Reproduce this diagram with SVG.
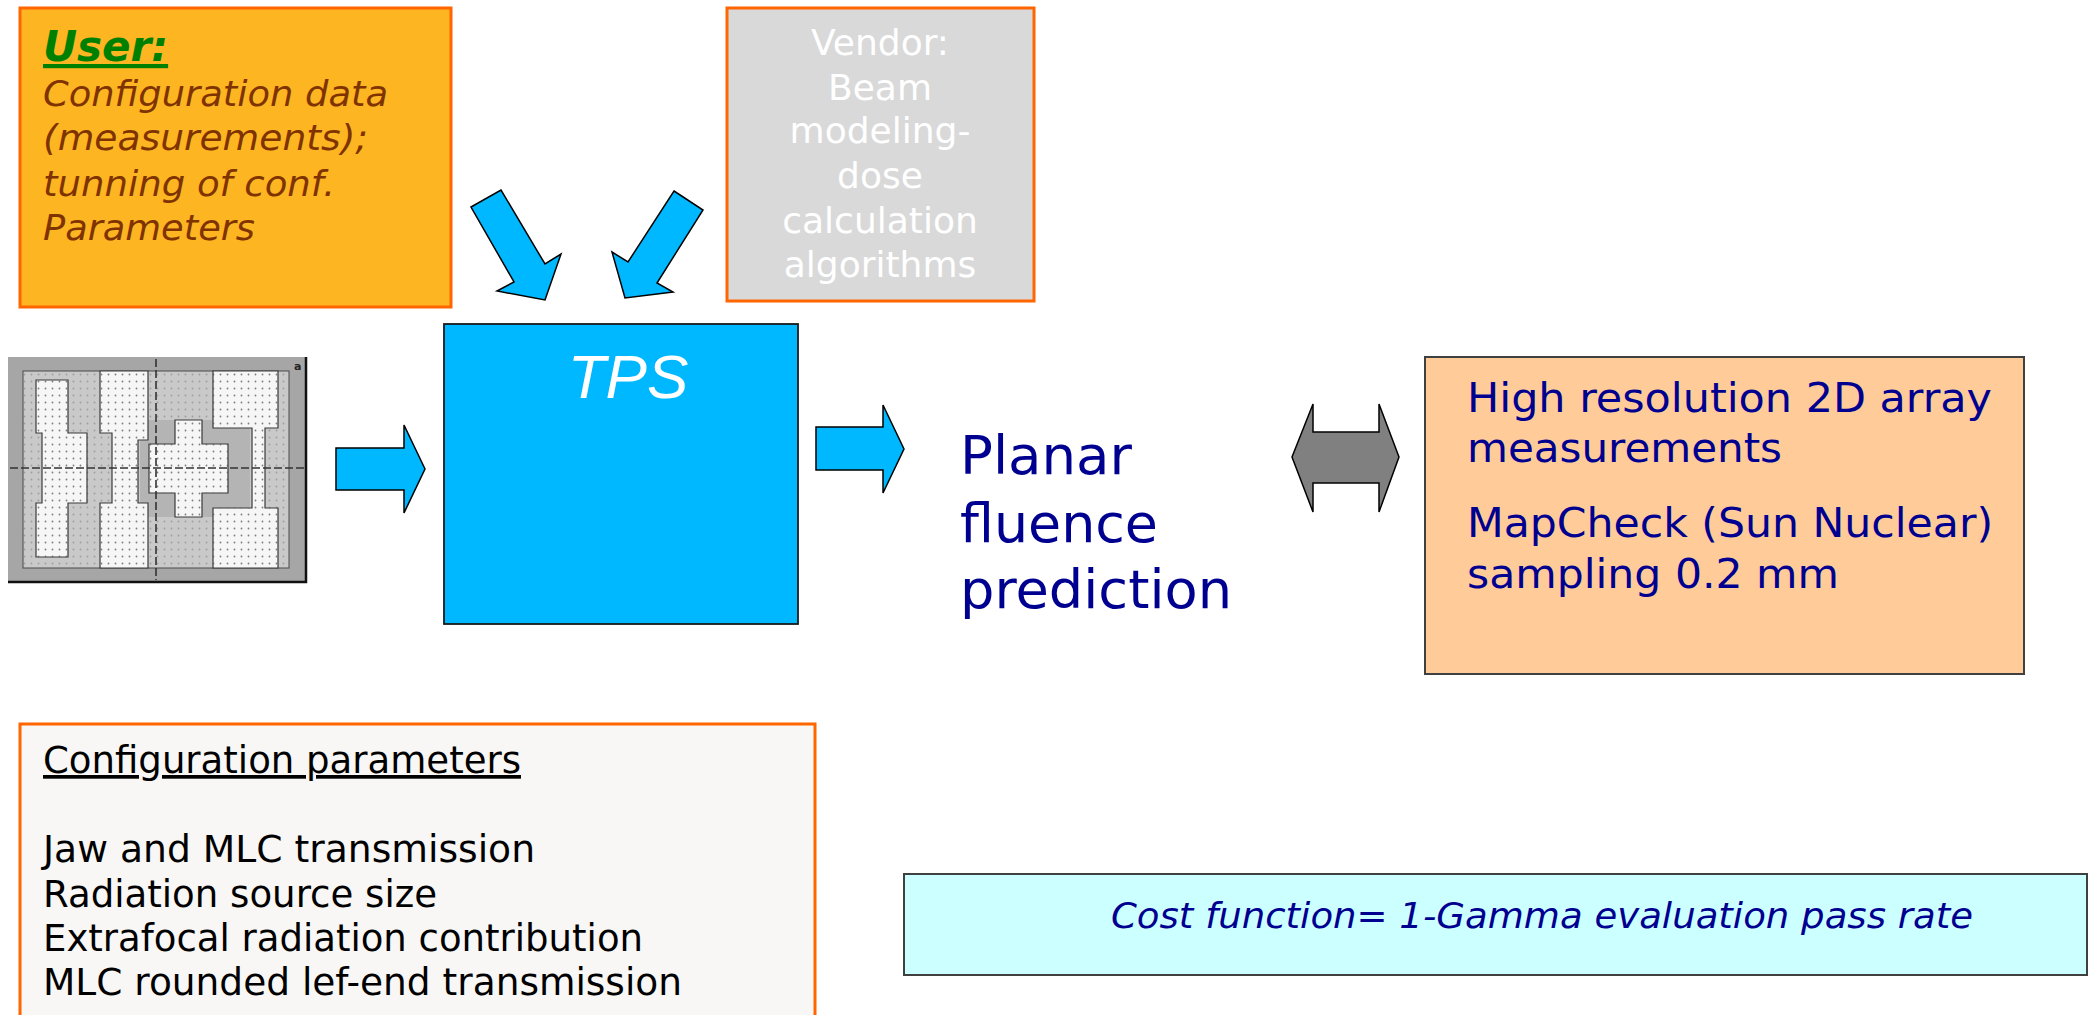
<svg xmlns="http://www.w3.org/2000/svg" width="2092" height="1015" viewBox="0 0 2092 1015">
  <style>
    .sans { font-family: "DejaVu Sans", Verdana, sans-serif; }
    .user-body { font-size: 36px; font-style: italic; fill: #7F3300; }
    .vendor { font-size: 36px; fill: #FFFFFF; text-anchor: middle; }
    .navy { fill: #000090; }
    .params { font-size: 37px; fill: #000000; }
    .blue-arrow { fill: #00B8FF; stroke: #000000; stroke-width: 1.5; stroke-linejoin: miter; }
    .field { fill: #F6F6F6; stroke: #3A3A3A; stroke-width: 1.2; }
  </style>
  <defs>
    <pattern id="dots" x="0" y="0" width="7" height="7" patternUnits="userSpaceOnUse">
      <circle cx="3.5" cy="3.5" r="0.9" fill="#555555" opacity="0.75"/>
    </pattern>
  </defs>

  <rect width="2092" height="1015" fill="#FFFFFF"/>

  <!-- User input box -->
  <g id="user">
    <rect x="20" y="8" width="431" height="299" fill="#FDB522" stroke="#FF6600" stroke-width="3"/>
    <text class="sans" x="43" y="61" font-size="42" font-weight="bold" font-style="italic" fill="#008000" text-decoration="underline">User:</text>
    <text class="sans user-body" x="43" y="106" textLength="345" lengthAdjust="spacingAndGlyphs">Configuration data</text>
    <text class="sans user-body" x="43" y="150" textLength="325" lengthAdjust="spacingAndGlyphs">(measurements);</text>
    <text class="sans user-body" x="43" y="196" textLength="292" lengthAdjust="spacingAndGlyphs">tunning of conf.</text>
    <text class="sans user-body" x="43" y="240" textLength="212" lengthAdjust="spacingAndGlyphs">Parameters</text>
  </g>

  <!-- Vendor input box -->
  <g id="vendor">
    <rect x="727" y="8" width="307" height="293" fill="#D9D9D9" stroke="#FF6600" stroke-width="3"/>
    <text class="sans vendor" x="880" y="55">Vendor:</text>
    <text class="sans vendor" x="880" y="100">Beam</text>
    <text class="sans vendor" x="880" y="143">modeling-</text>
    <text class="sans vendor" x="880" y="188">dose</text>
    <text class="sans vendor" x="880" y="233">calculation</text>
    <text class="sans vendor" x="880" y="277">algorithms</text>
  </g>

  <!-- MLC field pattern -->
  <g id="field-map">
    <rect x="8" y="357" width="298" height="225" fill="#A6A6A6"/>
    <path d="M306 357 V582 H8" fill="none" stroke="#111111" stroke-width="2.5"/>
    <rect x="23" y="371" width="266" height="197" fill="#C9C9C9" stroke="#4A4A4A" stroke-width="1"/>
    <rect x="23" y="371" width="266" height="197" fill="url(#dots)" opacity="0.5"/>
    <!-- darker shading around the cross -->
    <rect x="140" y="420" width="110" height="97" fill="#B4B4B4"/>
    <!-- left field -->
    <path class="field" d="M36 380 H68 V433 H87 V503 H68 V557 H36 V503 H42 V433 H36 Z"/>
    <!-- second field -->
    <path class="field" d="M100 371 H148 V440 H138 V503 H148 V568 H100 V503 H112 V433 H100 Z"/>
    <!-- cross -->
    <path class="field" d="M175 420 H202 V444 H228 V493 H202 V517 H175 V493 H149 V444 H175 Z"/>
    <!-- right field -->
    <path class="field" d="M213 371 H278 V428 H265 V508 H278 V568 H213 V508 H252 V428 H213 Z"/>
    <g fill="url(#dots)">
      <path d="M36 380 H68 V433 H87 V503 H68 V557 H36 V503 H42 V433 H36 Z"/>
      <path d="M100 371 H148 V440 H138 V503 H148 V568 H100 V503 H112 V433 H100 Z"/>
      <path d="M175 420 H202 V444 H228 V493 H202 V517 H175 V493 H149 V444 H175 Z"/>
      <path d="M213 371 H278 V428 H265 V508 H278 V568 H213 V508 H252 V428 H213 Z"/>
    </g>
    <!-- crosshair -->
    <line x1="10" y1="468" x2="304" y2="468" stroke="#333333" stroke-width="1.6" stroke-dasharray="8 3"/>
    <line x1="156" y1="359" x2="156" y2="580" stroke="#333333" stroke-width="1.6" stroke-dasharray="8 3"/>
    <text x="294" y="370" font-family="DejaVu Sans, sans-serif" font-size="11" font-weight="bold" fill="#222222">a</text>
  </g>

  <!-- TPS -->
  <g id="tps">
    <rect x="444" y="324" width="354" height="300" fill="#00B8FF" stroke="#1A1A1A" stroke-width="1.8"/>
    <text x="628" y="398" font-family="Liberation Sans, Arial, sans-serif" font-size="62" font-style="italic" fill="#FFFFFF" text-anchor="middle">TPS</text>
  </g>

  <!-- Planar fluence prediction -->
  <g id="prediction">
    <text class="sans navy" x="960" y="474" font-size="54" textLength="172" lengthAdjust="spacingAndGlyphs">Planar</text>
    <text class="sans navy" x="960" y="542" font-size="54" textLength="198" lengthAdjust="spacingAndGlyphs">fluence</text>
    <text class="sans navy" x="960" y="608" font-size="54" textLength="272" lengthAdjust="spacingAndGlyphs">prediction</text>
  </g>

  <!-- Measurement box -->
  <g id="measurement">
    <rect x="1425" y="357" width="599" height="317" fill="#FFCC99" stroke="#404040" stroke-width="2"/>
    <text class="sans navy" x="1467" y="412" font-size="40" textLength="525" lengthAdjust="spacingAndGlyphs">High resolution 2D array</text>
    <text class="sans navy" x="1467" y="462" font-size="40" textLength="315" lengthAdjust="spacingAndGlyphs">measurements</text>
    <text class="sans navy" x="1467" y="537" font-size="40" textLength="526" lengthAdjust="spacingAndGlyphs">MapCheck (Sun Nuclear)</text>
    <text class="sans navy" x="1467" y="588" font-size="40" textLength="372" lengthAdjust="spacingAndGlyphs">sampling 0.2 mm</text>
  </g>

  <!-- Configuration parameters box -->
  <g id="parameters">
    <rect x="20" y="724" width="795" height="310" fill="#F8F7F5" stroke="#FF6600" stroke-width="3"/>
    <text class="sans params" x="43" y="773" text-decoration="underline" textLength="478" lengthAdjust="spacingAndGlyphs">Configuration parameters</text>
    <text class="sans params" x="43" y="862" textLength="492" lengthAdjust="spacingAndGlyphs">Jaw and MLC transmission</text>
    <text class="sans params" x="43" y="907" textLength="394" lengthAdjust="spacingAndGlyphs">Radiation source size</text>
    <text class="sans params" x="43" y="951" textLength="600" lengthAdjust="spacingAndGlyphs">Extrafocal radiation contribution</text>
    <text class="sans params" x="43" y="995" textLength="639" lengthAdjust="spacingAndGlyphs">MLC rounded lef-end transmission</text>
  </g>

  <!-- Cost function box -->
  <g id="cost">
    <rect x="904" y="874" width="1183" height="101" fill="#CCFFFF" stroke="#404040" stroke-width="2"/>
    <text class="sans navy" x="1111" y="928" font-size="36" font-style="italic" textLength="862" lengthAdjust="spacingAndGlyphs">Cost function= 1-Gamma evaluation pass rate</text>
  </g>

  <!-- Connectors -->
  <g id="connectors">
    <polygon class="blue-arrow" points="471,207 501,190 545,264 561,254 545,300 497,291 514,282"/>
    <polygon class="blue-arrow" points="674,191 703,210 657,283 673,292 625,298 612,252 628,262"/>
    <polygon class="blue-arrow" points="336,448 404,448 404,425 425,469 404,513 404,490 336,490"/>
    <polygon class="blue-arrow" points="816,427 883,427 883,405 904,449 883,493 883,470 816,470"/>
    <polygon points="1292,457 1313,404 1313,432 1379,432 1379,404 1399,457 1379,512 1379,483 1313,483 1313,512" fill="#808080" stroke="#000000" stroke-width="1.5"/>
  </g>
</svg>
